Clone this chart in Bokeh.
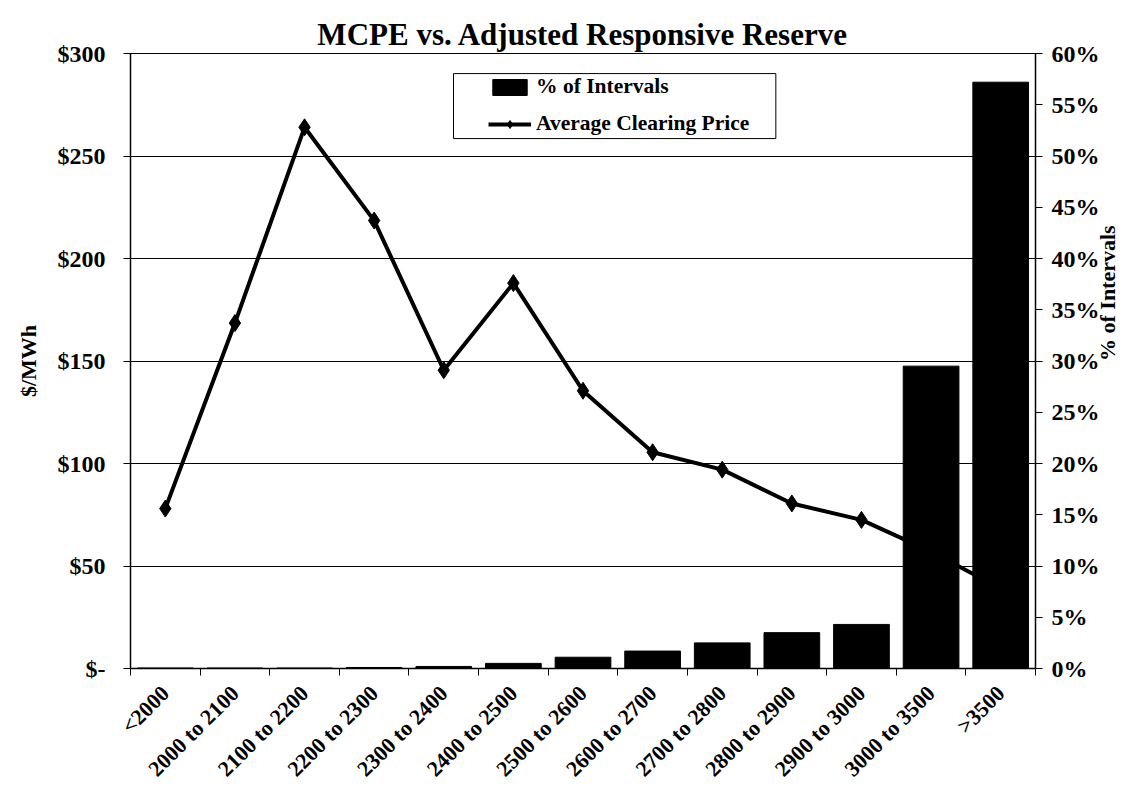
import math
from bokeh.plotting import figure
from bokeh.models import (Range1d, LinearAxis, FixedTicker, CustomJSTickFormatter,
                          Legend, LegendItem, BoxAnnotation)
from bokeh.embed import file_html
from bokeh.resources import INLINE

categories = ["<2000", "2000 to 2100", "2100 to 2200", "2200 to 2300", "2300 to 2400",
              "2400 to 2500", "2500 to 2600", "2600 to 2700", "2700 to 2800",
              "2800 to 2900", "2900 to 3000", "3000 to 3500", ">3500"]
pct_intervals = [0.05, 0.05, 0.05, 0.1, 0.2, 0.5, 1.1, 1.7, 2.5, 3.5, 4.3, 29.5, 57.2]
avg_price = [78, 168.5, 264, 218.5, 145.5, 188, 135.5, 105.5, 97, 80.5, 72.5, 57, 39]
price_ticks = [0, 50, 100, 150, 200, 250, 300]
pct_ticks = [0, 5, 10, 15, 20, 25, 30, 35, 40, 45, 50, 55, 60]

FONT = "Liberation Serif"
n = len(categories)
xc = [i + 0.5 for i in range(n)]
bounds = list(range(n + 1))

p = figure(width=1138, height=795, x_range=Range1d(0, n), y_range=Range1d(0, 300),
           output_backend="svg", toolbar_location=None,
           title="MCPE vs. Adjusted Responsive Reserve")
p.min_border_left = 130
p.min_border_right = 103
p.min_border_top = 53
p.min_border_bottom = 127
p.background_fill_color = "white"
p.border_fill_color = "white"
p.outline_line_color = "black"
p.outline_line_width = 1

p.title.text_font = FONT
p.title.text_font_style = "bold"
p.title.text_font_size = "31px"
p.title.align = "center"
p.title.text_color = "black"
p.title.standoff = 4

p.extra_y_ranges = {"pct": Range1d(0, 60)}

# left axis
yax = p.yaxis[0]
yax.ticker = FixedTicker(ticks=price_ticks)
yax.formatter = CustomJSTickFormatter(code="return tick == 0 ? '$-' : '$' + tick;")
yax.axis_label = "$/MWh"

# right axis
rax = LinearAxis(y_range_name="pct", ticker=FixedTicker(ticks=pct_ticks),
                 formatter=CustomJSTickFormatter(code="return tick + '%';"),
                 axis_label="% of Intervals")
p.add_layout(rax, "right")
rax.axis_label_orientation = math.pi / 2

# x axis
xax = p.xaxis[0]
xax.ticker = FixedTicker(ticks=xc, minor_ticks=bounds)
xax.formatter = CustomJSTickFormatter(args=dict(labels=categories),
                                      code="const i = Math.floor(tick); return (i >= 0 && i < labels.length) ? labels[i] : '';")
xax.major_label_orientation = math.pi / 4
xax.major_tick_out = 0
xax.major_tick_in = 0
xax.minor_tick_out = 7
xax.minor_tick_in = 0
xax.minor_tick_line_color = "black"

for ax in [yax, rax, xax]:
    ax.axis_line_color = "black"
    ax.axis_line_width = 1.5
    ax.major_label_text_font = FONT
    ax.major_label_text_font_style = "bold"
    ax.major_label_text_color = "black"
    ax.axis_label_text_font = FONT
    ax.axis_label_text_font_style = "bold"
    ax.axis_label_text_font_size = "22px"
    ax.axis_label_text_color = "black"
for ax in [yax, rax]:
    ax.major_tick_out = 7
    ax.major_tick_in = 0
    ax.minor_tick_out = 0
    ax.minor_tick_in = 0
    ax.major_tick_line_color = "black"
    ax.major_label_text_font_size = "24px"
yax.major_label_standoff = 18
yax.axis_label_standoff = 14
rax.major_label_standoff = 9
rax.axis_label_standoff = 5
xax.major_label_text_font_size = "22px"
xax.major_label_standoff = 14

p.xgrid.visible = False
p.ygrid.ticker = FixedTicker(ticks=price_ticks)
p.ygrid.grid_line_color = "black"
p.ygrid.grid_line_width = 1

line = p.line(xc, avg_price, line_width=4, line_color="black")
pts = p.scatter(xc, avg_price, marker="diamond", size=17, fill_color="black", line_color="black")
bars = p.vbar(x=xc, top=pct_intervals, width=0.8, y_range_name="pct",
              fill_color="black", line_color="black")

# legend frame (white box with black border) behind the legend entries
legend_box = BoxAnnotation(left=4.64, right=9.27, top=290.2, bottom=258.5,
                           fill_color="white", fill_alpha=1.0,
                           line_color="black", line_width=1, line_alpha=1.0)
p.add_layout(legend_box)

legend = Legend(items=[LegendItem(label="% of Intervals", renderers=[bars]),
                       LegendItem(label="Average Clearing Price", renderers=[line, pts])],
                location=(358, 532))
legend.label_text_font = FONT
legend.label_text_font_style = "bold"
legend.label_text_font_size = "21.5px"
legend.label_text_color = "black"
legend.border_line_alpha = 0
legend.background_fill_alpha = 0
legend.glyph_width = 43
legend.glyph_height = 20
legend.label_height = 20
legend.padding = 0
legend.spacing = 12
legend.margin = 0
legend.label_standoff = 5
p.add_layout(legend)

open("out.html", "w").write(file_html(p, INLINE))
